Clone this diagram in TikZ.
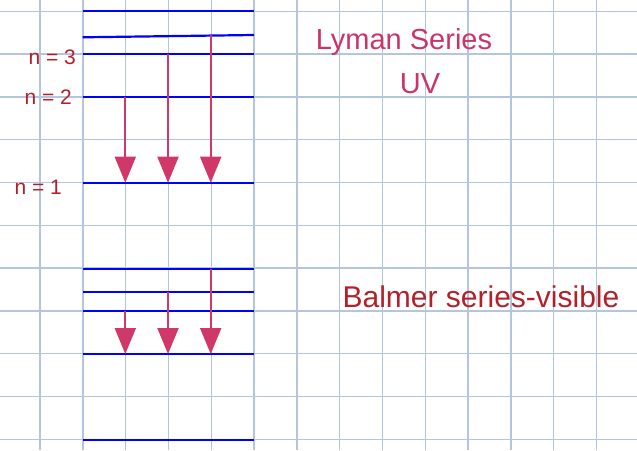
\documentclass[tikz,border=0pt]{standalone}
\usepackage{fontspec}
\setmainfont{Liberation Sans}
\usetikzlibrary{arrows.meta}
\definecolor{gridblue}{HTML}{B4C6DD}
\definecolor{transred}{HTML}{D0386A}
\definecolor{labred}{HTML}{B3202A}
\definecolor{notepink}{HTML}{CC3366}
\begin{document}
\begin{tikzpicture}[x=1pt, y=-1pt,
    gridline/.style={draw=gridblue, line width=1.4pt},
    level/.style={draw=blue, line width=2.2pt},
    trans/.style={draw=transred, line width=2pt, -{Triangle[width=21pt,length=26pt]}},
    nlab/.style={text=labred, anchor=east, inner sep=1pt, font=\fontsize{21}{21}\selectfont},
    note/.style={font=\fontsize{29}{29}\selectfont}]
  \useasboundingbox (0,0) rectangle (637,450);
  \fill[white] (0,0) rectangle (637,450);
  \foreach \i in {1,...,14} \draw[gridline] (-2.8+42.8*\i,0) -- (-2.8+42.8*\i,450);
  \foreach \j in {0,...,10} \draw[gridline] (0,11.3+42.8*\j) -- (637,11.3+42.8*\j);
  \coordinate (ca) at (125.3,0);
  \coordinate (cb) at (168,0);
  \coordinate (cc) at (210.7,0);
  \foreach \n/\y in {ly1/182.7, ly2/97.3, ly3/54, ly5/11.3, ba0/440, ba1/354, ba2/311.3, ba3/292, ba4/268.7} {
    \coordinate (\n L) at (82.7,\y);
    \coordinate (\n R) at (254,\y);
  }
  \coordinate (ly4L) at (82.7,37.3);
  \coordinate (ly4R) at (254,35);
  \foreach \n in {ly1, ly2, ly3, ly4, ly5, ba0, ba1, ba2, ba3, ba4}
    \draw[level] (\n L) -- (\n R);
  \draw[trans] (ca |- ly2L) -- (ca |- ly1L);
  \draw[trans] (cb |- ly3L) -- (cb |- ly1L);
  \draw[trans] (cc |- ly4R) -- (cc |- ly1L);
  \draw[trans] (ca |- ba2L) -- (ca |- ba1L);
  \draw[trans] (cb |- ba3L) -- (cb |- ba1L);
  \draw[trans] (cc |- ba4L) -- (cc |- ba1L);
  \node[nlab] (n3) at (77,57) {n = 3};
  \node[nlab] (n2) at (73,97) {n = 2};
  \node[nlab] (n1) at (63,187) {n = 1};
  \node[note, text=notepink] (lyman) at (404,42) {Lyman Series};
  \node[note, text=notepink] (uv) at (420,84) {UV};
  \node[note, text=labred, font=\fontsize{30}{30}\selectfont] (balmer) at (481,297) {Balmer series-visible};
\end{tikzpicture}
\end{document}
